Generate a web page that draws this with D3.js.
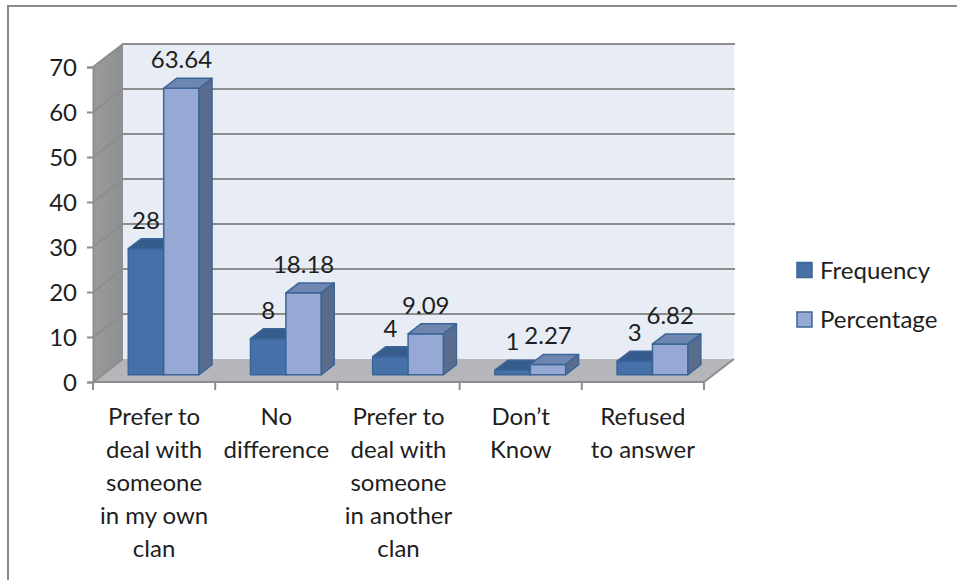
<!DOCTYPE html>
<html>
<head>
<meta charset="utf-8">
<script src="https://cdn.jsdelivr.net/npm/d3@7"></script>
<style>
  html, body { margin: 0; padding: 0; background: #ffffff; }
  svg { display: block; }
  text { font-family: Lato, "Noto Sans", sans-serif; fill: #1e1e1e; }
</style>
</head>
<body>
<svg id="chart" width="957" height="580"></svg>
<script>
// Survey responses: preference about dealing with someone from one's own clan
const categories = [
  "Prefer to deal with someone in my own clan",
  "No difference",
  "Prefer to deal with someone in another clan",
  "Don’t Know",
  "Refused to answer"
];
const categoryLines = [
  ["Prefer to", "deal with", "someone", "in my own", "clan"],
  ["No", "difference"],
  ["Prefer to", "deal with", "someone", "in another", "clan"],
  ["Don’t", "Know"],
  ["Refused", "to answer"]
];
const seriesNames = ["Frequency", "Percentage"];
const frequency = [28, 8, 4, 1, 3];
const percentage = [63.64, 18.18, 9.09, 2.27, 6.82];
const yTicks = [0, 10, 20, 30, 40, 50, 60, 70];

const seriesValues = [frequency, percentage];
const palette = {
  Frequency:  { front: "#4571a8", top: "#365c8d", side: "#2f4f78" },
  Percentage: { front: "#95a9d4", top: "#6f86b0", side: "#5a6c8c" }
};
const barStroke = "#3b6598";
const gridColor = "#8d8d8d";

const svg = d3.select("#chart");

// outer frame
svg.append("rect")
  .attr("x", 8).attr("y", 6).attr("width", 970).attr("height", 600)
  .attr("fill", "#ffffff").attr("stroke", "#8a8a8a").attr("stroke-width", 2);

// front-plane scales; depth is an oblique offset
const DX = 30, DY = 23;
const y = d3.scaleLinear().domain([0, 70]).range([382, 67]);
const x0 = d3.scaleBand().domain(categories).range([93, 704]).padding(0);
const bw = x0.bandwidth();
const x1 = d3.scaleBand().domain(seriesNames).range([bw * 0.21, bw * 0.79]).padding(0);

const P = (x, v, z) => [x + z * DX, y(v) - z * DY];
const poly = pts => pts.map(p => p.join(",")).join(" ");

const x0L = x0.range()[0], x0R = x0.range()[1];

// back wall
svg.append("polygon")
  .attr("points", poly([P(x0L, 0, 1), P(x0R, 0, 1), P(x0R, 70, 1), P(x0L, 70, 1)]))
  .attr("fill", "#e8ecf5");

// left side wall
const defs = svg.append("defs");
const lg = defs.append("linearGradient").attr("id", "wallGrad")
  .attr("x1", "0").attr("y1", "0").attr("x2", "1").attr("y2", "0");
lg.append("stop").attr("offset", "0").attr("stop-color", "#9a9b9d");
lg.append("stop").attr("offset", "1").attr("stop-color", "#8e8f91");
svg.append("polygon")
  .attr("points", poly([P(x0L, 0, 0), P(x0L, 0, 1), P(x0L, 70, 1), P(x0L, 70, 0)]))
  .attr("fill", "url(#wallGrad)");

// floor
svg.append("polygon")
  .attr("points", poly([P(x0L, 0, 0), P(x0R, 0, 0), P(x0R, 0, 1), P(x0L, 0, 1)]))
  .attr("fill", "#b5b6b9");

// gridlines across the side wall and back wall
const grid = svg.append("g").attr("fill", "none").attr("stroke", gridColor).attr("stroke-width", 2);
yTicks.filter(t => t > 0).forEach(t => {
  grid.append("polyline")
    .attr("points", poly([P(x0L, t, 0), P(x0L, t, 1), P(x0R + 1, t, 1)]));
});
// floor right edge
grid.append("line")
  .attr("x1", P(x0R, 0, 0)[0]).attr("y1", P(x0R, 0, 0)[1])
  .attr("x2", P(x0R, 0, 1)[0]).attr("y2", P(x0R, 0, 1)[1]);
// floor back-left edge
grid.append("line")
  .attr("x1", P(x0L, 0, 0)[0]).attr("y1", P(x0L, 0, 0)[1])
  .attr("x2", P(x0L, 0, 1)[0]).attr("y2", P(x0L, 0, 1)[1]);

// bars
const Z0 = 0.32, Z1 = 0.75;
const bars = svg.append("g").attr("stroke", barStroke).attr("stroke-width", 1.5).attr("stroke-linejoin", "round");
categories.forEach((c, i) => {
  seriesNames.forEach((s, k) => {
    const v = seriesValues[k][i];
    const xa = x0(c) + x1(s), xb = xa + x1.bandwidth();
    const col = palette[s];
    bars.append("polygon")
      .attr("points", poly([P(xa, 0, Z0), P(xb, 0, Z0), P(xb, v, Z0), P(xa, v, Z0)]))
      .attr("fill", col.front);
    bars.append("polygon")
      .attr("points", poly([P(xa, v, Z0), P(xb, v, Z0), P(xb, v, Z1), P(xa, v, Z1)]))
      .attr("fill", col.top);
    bars.append("polygon")
      .attr("points", poly([P(xb, 0, Z0), P(xb, 0, Z1), P(xb, v, Z1), P(xb, v, Z0)]))
      .attr("fill", col.side);
  });
});

// value labels
const labels = svg.append("g").attr("text-anchor", "middle").style("font-size", "24px");
categories.forEach((c, i) => {
  seriesNames.forEach((s, k) => {
    const v = seriesValues[k][i];
    const xa = x0(c) + x1(s);
    const [px, py] = P(xa + x1.bandwidth() / 2, v, Z0);
    labels.append("text").attr("x", px).attr("y", py - 20).text(v);
  });
});

// value axis
const yAxis = svg.append("g").attr("transform", `translate(${x0L},0)`)
  .call(d3.axisLeft(y).tickValues(yTicks).tickSize(6).tickPadding(10).tickFormat(d3.format("d")));
yAxis.select(".domain").attr("stroke", gridColor).attr("stroke-width", 2);
yAxis.selectAll(".tick line").attr("stroke", gridColor).attr("stroke-width", 2);
yAxis.selectAll(".tick text").style("font-size", "24px").style("font-family", "Lato").attr("fill", "#1e1e1e").attr("dy", "0.36em");

// category axis
const xAxis = svg.append("g").attr("transform", `translate(0,${y(0)})`)
  .call(d3.axisBottom(x0).tickSize(0).tickFormat(""));
xAxis.select(".domain").attr("stroke", gridColor).attr("stroke-width", 2).attr("d", `M${x0L},0H${x0R}`);
xAxis.selectAll(".tick").remove();
const edges = categories.map(c => x0(c)).concat([x0R]);
xAxis.selectAll("line.edge").data(edges).join("line").attr("class", "edge")
  .attr("x1", d => d).attr("x2", d => d).attr("y1", 0).attr("y2", 8)
  .attr("stroke", gridColor).attr("stroke-width", 2);

const catText = svg.append("g").attr("text-anchor", "middle").style("font-size", "24px");
categories.forEach((c, i) => {
  const t = catText.append("text").attr("x", x0(c) + bw / 2).attr("y", 425);
  categoryLines[i].forEach((ln, j) => {
    t.append("tspan").attr("x", x0(c) + bw / 2).attr("y", 425 + j * 33).text(ln);
  });
});

// legend
const legend = svg.append("g").style("font-size", "24px");
seriesNames.forEach((s, k) => {
  const cy = 270 + k * 49.5;
  legend.append("rect").attr("x", 797).attr("y", cy - 7.5).attr("width", 15).attr("height", 15)
    .attr("fill", palette[s].front).attr("stroke", barStroke).attr("stroke-width", 1.5);
  legend.append("text").attr("x", 820).attr("y", cy).attr("dy", "0.36em").text(s);
});
</script>
</body>
</html>
